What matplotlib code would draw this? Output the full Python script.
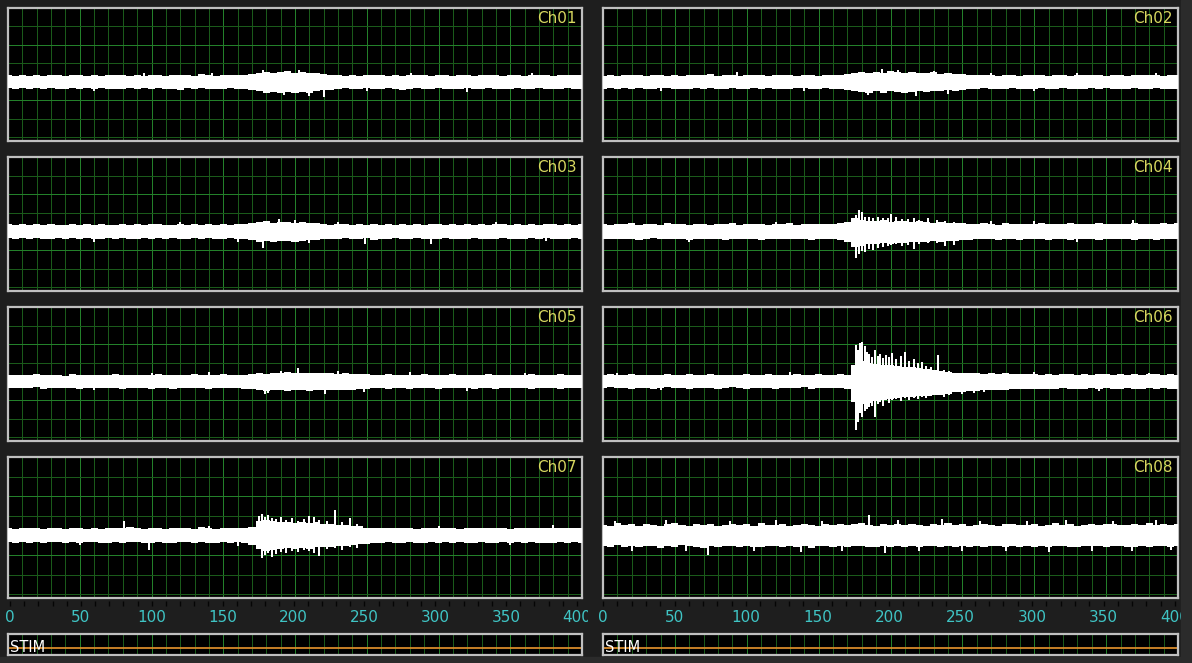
import numpy as np
import matplotlib
matplotlib.use("Agg")  # no display
import matplotlib.pyplot as plt
from matplotlib.patches import Rectangle

W, H = 1192, 663

# time axis (ms), envelope sampled every 5 ms
t_ms = np.arange(0, 401, 5)
tick_vals = [0, 50, 100, 150, 200, 250, 300, 350, 400]
names = ["Ch01", "Ch02", "Ch03", "Ch04", "Ch05", "Ch06", "Ch07", "Ch08"]

# dense band of each trace (grid divisions above / below baseline)
ch01_hi = [0.36,0.32,0.38,0.34,0.40,0.33,0.37,0.35,0.31,0.39,0.36,0.34,0.38,0.32,0.36,0.40,0.35,0.33,0.37,0.34,
           0.38,0.36,0.32,0.39,0.35,0.37,0.33,0.41,0.36,0.34,0.38,0.35,0.37,0.40,
           0.44,0.50,0.55,0.48,0.52,0.58,0.50,0.55,0.48,0.46,0.42,0.40,
           0.36,0.34,0.38,0.33,0.37,0.35,0.39,0.34,0.36,0.32,0.38,0.35,0.37,0.33,0.40,0.36,0.34,0.38,0.35,0.33,
           0.37,0.36,0.39,0.34,0.36,0.38,0.33,0.37,0.35,0.39,0.34,0.36,0.38,0.35,0.37]
ch01_lo = [-0.34,-0.38,-0.32,-0.40,-0.35,-0.37,-0.33,-0.39,-0.36,-0.34,-0.41,-0.35,-0.37,-0.33,-0.38,-0.36,-0.40,
           -0.34,-0.37,-0.35,-0.39,-0.33,-0.38,-0.36,-0.42,-0.35,-0.37,-0.34,-0.39,-0.36,-0.38,-0.33,-0.40,-0.37,
           -0.45,-0.52,-0.58,-0.55,-0.62,-0.56,-0.60,-0.54,-0.58,-0.50,-0.46,-0.42,
           -0.38,-0.35,-0.39,-0.36,-0.34,-0.40,-0.37,-0.35,-0.38,-0.42,-0.36,-0.34,-0.39,-0.37,-0.35,-0.40,-0.36,
           -0.38,-0.34,-0.41,-0.37,-0.35,-0.39,-0.36,-0.38,-0.34,-0.40,-0.37,-0.35,-0.39,-0.36,-0.38,-0.35,-0.37,-0.36]
ch02_hi = [0.34,0.38,0.33,0.36,0.40,0.35,0.32,0.37,0.39,0.34,0.36,0.33,0.38,0.35,0.37,0.41,0.34,0.36,0.38,0.33,
           0.35,0.39,0.36,0.34,0.37,0.35,0.40,0.33,0.36,0.38,0.34,0.37,0.35,0.39,0.42,
           0.46,0.52,0.48,0.55,0.50,0.58,0.52,0.49,0.55,0.50,0.47,0.52,0.45,0.48,0.44,0.42,
           0.38,0.35,0.40,0.36,0.33,0.37,0.39,0.34,0.36,0.38,0.35,0.33,0.37,0.40,0.34,0.36,0.38,0.35,0.37,0.33,
           0.39,0.36,0.34,0.38,0.35,0.37,0.40,0.34,0.36,0.38]
ch02_lo = [-0.36,-0.33,-0.38,-0.35,-0.40,-0.34,-0.37,-0.39,-0.35,-0.33,-0.38,-0.36,-0.41,-0.34,-0.37,-0.35,-0.39,
           -0.36,-0.33,-0.38,-0.40,-0.35,-0.37,-0.34,-0.39,-0.36,-0.38,-0.35,-0.33,-0.40,-0.37,-0.35,-0.38,-0.36,-0.42,
           -0.48,-0.55,-0.60,-0.52,-0.58,-0.50,-0.55,-0.62,-0.54,-0.50,-0.56,-0.48,-0.52,-0.46,-0.50,-0.44,
           -0.40,-0.37,-0.35,-0.39,-0.36,-0.41,-0.34,-0.38,-0.36,-0.40,-0.35,-0.37,-0.39,-0.34,-0.38,-0.36,-0.40,
           -0.35,-0.37,-0.33,-0.39,-0.36,-0.38,-0.35,-0.41,-0.37,-0.34,-0.39,-0.36,-0.38]
ch03_hi = [0.38,0.34,0.40,0.36,0.42,0.35,0.39,0.37,0.33,0.41,0.36,0.38,0.35,0.40,0.37,0.34,0.39,0.36,0.42,0.35,
           0.38,0.40,0.36,0.34,0.39,0.37,0.41,0.35,0.38,0.36,0.40,0.37,0.39,0.42,
           0.46,0.50,0.55,0.48,0.52,0.50,0.47,0.52,0.45,0.44,
           0.40,0.36,0.38,0.42,0.35,0.39,0.37,0.41,0.36,0.38,0.34,0.40,0.37,0.39,0.35,0.38,0.41,0.36,0.38,0.35,
           0.40,0.37,0.39,0.36,0.42,0.38,0.35,0.39,0.37,0.40,0.36,0.38,0.41,0.37,0.39,0.36,0.38]
ch03_lo = [-0.37,-0.40,-0.35,-0.39,-0.36,-0.42,-0.38,-0.34,-0.40,-0.37,-0.39,-0.35,-0.41,-0.38,-0.36,-0.40,-0.37,
           -0.43,-0.38,-0.35,-0.39,-0.37,-0.41,-0.36,-0.38,-0.40,-0.35,-0.39,-0.37,-0.42,-0.38,-0.36,-0.40,-0.43,
           -0.48,-0.55,-0.52,-0.58,-0.50,-0.54,-0.56,-0.50,-0.48,-0.45,
           -0.41,-0.38,-0.40,-0.36,-0.42,-0.39,-0.37,-0.44,-0.40,-0.38,-0.36,-0.41,-0.39,-0.37,-0.40,-0.43,-0.38,
           -0.36,-0.40,-0.38,-0.42,-0.37,-0.39,-0.41,-0.38,-0.36,-0.40,-0.38,-0.42,-0.37,-0.39,-0.36,-0.40,-0.38,
           -0.41,-0.37,-0.39]
ch04_hi = [0.40,0.36,0.42,0.38,0.44,0.37,0.41,0.39,0.35,0.43,0.38,0.40,0.37,0.42,0.39,0.36,0.41,0.38,0.44,0.37,
           0.40,0.42,0.38,0.36,0.41,0.39,0.43,0.37,0.40,0.38,0.42,0.39,0.41,0.44,
           0.50,0.70,0.62,0.58,0.55,0.60,0.52,0.55,0.58,0.50,0.55,0.52,0.48,0.50,0.47,0.48,0.45,
           0.42,0.39,0.44,0.40,0.37,0.43,0.41,0.38,0.42,0.40,0.45,0.39,0.41,0.38,0.43,0.40,0.42,0.39,0.44,0.41,
           0.38,0.42,0.40,0.45,0.39,0.42,0.40,0.44,0.41,0.43]
ch04_lo = [-0.40,-0.43,-0.38,-0.42,-0.39,-0.44,-0.41,-0.37,-0.42,-0.40,-0.43,-0.38,-0.44,-0.41,-0.39,-0.42,-0.40,
           -0.45,-0.41,-0.38,-0.42,-0.40,-0.44,-0.39,-0.41,-0.43,-0.38,-0.42,-0.40,-0.44,-0.41,-0.39,-0.42,-0.45,
           -0.55,-0.85,-0.78,-0.70,-0.65,-0.62,-0.66,-0.60,-0.64,-0.58,-0.55,-0.58,-0.52,-0.55,-0.50,-0.52,-0.48,
           -0.44,-0.41,-0.43,-0.40,-0.45,-0.42,-0.39,-0.44,-0.41,-0.43,-0.40,-0.46,-0.42,-0.39,-0.44,-0.41,-0.43,
           -0.40,-0.45,-0.42,-0.39,-0.43,-0.41,-0.44,-0.40,-0.42,-0.45,-0.41,-0.43,-0.40]
ch05_hi = [0.35,0.32,0.37,0.34,0.39,0.33,0.36,0.34,0.31,0.38,0.35,0.33,0.37,0.34,0.36,0.39,0.33,0.35,0.37,0.32,
           0.36,0.38,0.34,0.33,0.37,0.35,0.39,0.32,0.36,0.34,0.38,0.35,0.33,0.37,0.40,
           0.44,0.42,0.47,0.45,0.50,0.48,0.44,0.47,0.45,0.43,0.46,0.42,0.44,0.41,0.40,0.38,
           0.36,0.33,0.38,0.35,0.32,0.37,0.34,0.39,0.35,0.33,0.36,0.38,0.34,0.37,0.33,0.35,0.39,0.34,0.36,0.32,
           0.37,0.35,0.38,0.34,0.36,0.33,0.38,0.35,0.37,0.34]
ch05_lo = [-0.34,-0.37,-0.33,-0.36,-0.32,-0.38,-0.35,-0.33,-0.37,-0.34,-0.39,-0.35,-0.33,-0.37,-0.36,-0.34,-0.38,
           -0.35,-0.33,-0.37,-0.40,-0.34,-0.36,-0.38,-0.33,-0.35,-0.37,-0.34,-0.39,-0.36,-0.33,-0.37,-0.35,-0.38,-0.41,
           -0.46,-0.50,-0.48,-0.45,-0.52,-0.47,-0.44,-0.50,-0.48,-0.46,-0.44,-0.47,-0.45,-0.48,-0.43,-0.40,
           -0.37,-0.34,-0.38,-0.36,-0.33,-0.39,-0.35,-0.37,-0.34,-0.38,-0.36,-0.33,-0.37,-0.35,-0.39,-0.34,-0.36,
           -0.38,-0.35,-0.37,-0.33,-0.36,-0.39,-0.35,-0.37,-0.34,-0.38,-0.36,-0.34,-0.37]
ch06_hi = [0.34,0.38,0.32,0.36,0.40,0.33,0.37,0.35,0.32,0.39,0.36,0.34,0.38,0.33,0.36,0.41,0.35,0.33,0.37,0.34,
           0.38,0.36,0.32,0.39,0.35,0.37,0.33,0.40,0.36,0.34,0.38,0.35,0.37,0.39,0.36,
           0.90,1.10,1.00,0.95,0.90,0.88,0.85,0.80,0.75,0.70,0.65,0.60,0.55,0.50,
           0.48,0.45,0.47,0.44,0.42,0.45,0.41,0.43,0.40,0.38,0.42,0.39,0.37,0.40,0.36,0.38,0.41,0.37,0.39,0.36,
           0.40,0.38,0.35,0.39,0.37,0.41,0.36,0.38,0.40,0.37,0.39,0.36]
ch06_lo = [-0.35,-0.32,-0.37,-0.34,-0.39,-0.33,-0.36,-0.38,-0.34,-0.32,-0.37,-0.35,-0.40,-0.33,-0.36,-0.34,-0.38,
           -0.35,-0.32,-0.37,-0.39,-0.34,-0.36,-0.33,-0.38,-0.35,-0.37,-0.34,-0.32,-0.39,-0.36,-0.34,-0.37,-0.35,-0.38,
           -1.10,-1.20,-1.15,-1.05,-1.00,-0.95,-0.90,-0.85,-0.85,-0.80,-0.78,-0.75,-0.72,-0.65,
           -0.58,-0.55,-0.52,-0.50,-0.48,-0.46,-0.44,-0.45,-0.42,-0.40,-0.43,-0.39,-0.41,-0.38,-0.40,-0.37,-0.39,
           -0.42,-0.38,-0.36,-0.40,-0.37,-0.39,-0.41,-0.36,-0.38,-0.40,-0.37,-0.39,-0.36,-0.38,-0.40]
ch07_hi = [0.36,0.33,0.38,0.35,0.40,0.34,0.37,0.35,0.32,0.39,0.36,0.34,0.38,0.33,0.36,0.40,0.35,0.42,0.37,0.34,
           0.38,0.36,0.33,0.39,0.35,0.37,0.34,0.41,0.36,0.34,0.38,0.35,0.37,0.40,
           0.45,0.75,0.80,0.72,0.70,0.68,0.65,0.70,0.62,0.66,0.60,0.58,0.55,0.55,0.50,0.46,
           0.40,0.37,0.39,0.35,0.38,0.36,0.40,0.34,0.37,0.39,0.35,0.38,0.36,0.33,0.39,0.37,0.35,0.40,0.36,0.38,
           0.34,0.37,0.39,0.35,0.38,0.36,0.40,0.37,0.35,0.38,0.36]
ch07_lo = [-0.35,-0.38,-0.34,-0.37,-0.33,-0.39,-0.36,-0.34,-0.38,-0.35,-0.40,-0.36,-0.34,-0.38,-0.37,-0.35,-0.39,
           -0.36,-0.34,-0.38,-0.41,-0.35,-0.37,-0.39,-0.34,-0.36,-0.38,-0.35,-0.40,-0.37,-0.34,-0.38,-0.36,-0.39,
           -0.48,-0.70,-0.80,-0.75,-0.70,-0.66,-0.72,-0.65,-0.68,-0.62,-0.60,-0.58,-0.55,-0.52,-0.50,-0.46,
           -0.42,-0.38,-0.40,-0.36,-0.39,-0.37,-0.35,-0.40,-0.38,-0.36,-0.39,-0.34,-0.38,-0.36,-0.40,-0.37,-0.35,
           -0.39,-0.37,-0.34,-0.38,-0.36,-0.40,-0.35,-0.38,-0.37,-0.39,-0.35,-0.38,-0.36,-0.37]
ch08_hi = [0.55,0.50,0.62,0.52,0.58,0.48,0.60,0.54,0.50,0.56,0.62,0.52,0.48,0.57,0.53,0.60,0.50,0.55,0.58,0.51,
           0.56,0.49,0.61,0.54,0.52,0.58,0.50,0.55,0.60,0.53,0.48,0.57,0.54,0.59,0.52,0.56,0.62,0.55,0.50,0.58,
           0.53,0.60,0.51,0.56,0.54,0.49,0.58,0.55,0.61,0.52,0.57,0.50,0.55,0.59,0.53,0.48,0.56,0.60,0.52,0.55,
           0.58,0.50,0.54,0.61,0.53,0.57,0.50,0.55,0.59,0.52,0.56,0.60,0.54,0.51,0.58,0.55,0.62,0.53,0.57,0.54,0.56]
ch08_lo = [-0.52,-0.58,-0.50,-0.62,-0.55,-0.60,-0.53,-0.57,-0.64,-0.54,-0.58,-0.51,-0.56,-0.60,-0.65,-0.55,-0.59,
           -0.52,-0.57,-0.61,-0.54,-0.58,-0.62,-0.53,-0.56,-0.60,-0.52,-0.58,-0.55,-0.63,-0.57,-0.53,-0.59,-0.55,
           -0.61,-0.56,-0.52,-0.58,-0.60,-0.54,-0.62,-0.55,-0.58,-0.52,-0.60,-0.57,-0.54,-0.59,-0.55,-0.61,-0.53,
           -0.58,-0.56,-0.62,-0.54,-0.57,-0.60,-0.52,-0.58,-0.55,-0.59,-0.54,-0.61,-0.56,-0.52,-0.58,-0.60,-0.55,
           -0.57,-0.53,-0.60,-0.56,-0.54,-0.59,-0.62,-0.55,-0.58,-0.53,-0.57,-0.60,-0.56]

# isolated spikes sticking out of the band: (time ms, low, high) in divisions
ch01_spk = [(60, -0.5, 0), (95, 0, 0.48), (142, 0, 0.5), (178, -0.3, 0.65), (192, -0.7, 0.3), (203, 0, 0.65),
            (210, -0.75, 0), (220, -0.8, 0), (250, -0.5, 0), (281, 0, 0.5), (320, -0.55, 0), (365, 0, 0.48)]
ch02_spk = [(40, -0.5, 0), (93, 0, 0.55), (140, -0.52, 0), (184, -0.72, 0), (194, 0, 0.68), (205, 0, 0.62),
            (218, -0.78, 0), (230, 0, 0.6), (240, -0.65, 0), (270, 0, 0.5), (300, -0.5, 0), (330, 0, 0.48),
            (385, 0, 0.5)]
ch03_spk = [(60, -0.55, 0), (120, 0, 0.5), (160, -0.55, 0), (178, -0.9, 0), (189, 0, 0.65), (200, 0, 0.62),
            (201, -0.58, 0), (210, -0.62, 0), (230, 0, 0.52), (249, -0.7, 0), (295, -0.65, 0), (340, 0, 0.5),
            (375, -0.5, 0)]
ch04_spk = [(60, -0.55, 0), (120, 0, 0.52), (176, -1.4, 0.9), (178, -1.2, 1.13), (180, -1.05, 1.05),
            (182, -1.1, 0.8), (185, -0.95, 0.75), (188, -1.0, 0.7), (191, -0.9, 0.78), (195, -0.85, 0.72),
            (198, -0.8, 0.7), (200, -0.75, 0.92), (204, -0.7, 0.75), (208, -0.8, 0.68), (212, -0.72, 0.65),
            (216, -0.95, 0.7), (220, -0.7, 0.6), (226, -0.62, 0.72), (232, -0.6, 0.6), (238, -0.8, 0.55),
            (244, -0.75, 0.5), (270, 0, 0.55), (300, 0, 0.55), (330, -0.55, 0), (369, 0, 0.6)]
ch05_spk = [(60, -0.48, 0), (100, 0, 0.48), (140, 0, 0.5), (179, -0.65, 0), (181, -0.6, 0), (190, 0, 0.55),
            (202, 0, 0.7), (221, -0.65, 0), (230, 0, 0.55), (248, -0.58, 0), (280, 0, 0.5), (320, -0.5, 0),
            (360, 0, 0.48)]
ch06_spk = [(10, 0, 0.45), (40, -0.48, 0), (130, 0, 0.5), (176, -2.6, 1.95), (177.5, -2.2, 1.7),
            (179, -1.7, 2.05), (180.5, -1.9, 2.1), (182, -1.6, 1.9), (183.5, -1.5, 1.6), (185, -1.4, 1.45),
            (187, -1.3, 1.3), (189, -1.9, 1.7), (191, -1.2, 1.35), (193, -1.1, 1.5), (195, -1.3, 1.25),
            (197, -1.0, 1.4), (199, -1.15, 1.3), (201, -1.0, 1.55), (204, -0.95, 1.2), (207, -1.05, 1.35),
            (210, -0.9, 1.6), (213, -1.0, 1.1), (216, -0.9, 1.2), (219, -0.95, 1.0), (222, -0.85, 1.05),
            (225, -0.9, 0.85), (228, -0.8, 0.8), (233, -0.7, 1.4), (237, -0.85, 0.6), (241, -0.75, 0.55),
            (250, -0.65, 0), (258, -0.6, 0), (265, -0.55, 0), (300, 0, 0.5), (345, -0.5, 0), (380, 0, 0.48)]
ch07_spk = [(50, -0.5, 0), (81, 0, 0.75), (98, -0.75, 0), (140, 0, 0.5), (160, -0.55, 0), (175, -0.6, 1.0),
            (177, -1.15, 1.1), (179, -1.0, 0.95), (181, -0.9, 1.05), (184, -1.1, 0.9), (187, -0.95, 0.85),
            (190, -0.85, 0.95), (194, -0.9, 0.8), (198, -0.8, 0.9), (202, -0.85, 0.75), (206, -0.75, 0.85),
            (210, -0.8, 1.0), (213, -0.9, 0.95), (217, -1.05, 0.8), (222, -0.7, 0.75), (228, -0.65, 1.3),
            (233, -0.75, 0.7), (238, -0.6, 0.9), (243, -0.65, 0.6), (300, 0, 0.5), (350, -0.5, 0),
            (380, 0, 0.55)]
ch08_spk = [(8, 0, 0.72), (20, -0.78, 0), (44, 0, 0.8), (58, -0.82, 0), (73, -1.0, 0), (88, 0, 0.75),
            (105, -0.8, 0), (120, 0, 0.78), (138, -0.85, 0), (152, 0, 0.72), (166, -0.8, 0), (185, 0, 1.05),
            (196, -0.88, 0), (205, 0, 0.78), (220, -0.82, 0), (236, 0, 0.82), (250, -0.78, 0), (262, 0, 0.75),
            (280, -0.8, 0), (295, 0, 0.72), (310, -0.85, 0), (322, 0, 0.8), (340, -0.78, 0), (355, 0, 0.75),
            (368, -0.82, 0), (385, 0, 0.8), (395, -0.75, 0)]

traces = [
    (ch01_hi, ch01_lo, ch01_spk), (ch02_hi, ch02_lo, ch02_spk),
    (ch03_hi, ch03_lo, ch03_spk), (ch04_hi, ch04_lo, ch04_spk),
    (ch05_hi, ch05_lo, ch05_spk), (ch06_hi, ch06_lo, ch06_spk),
    (ch07_hi, ch07_lo, ch07_spk), (ch08_hi, ch08_lo, ch08_spk),
]

# layout in pixels
COLS = [(8, 582), (603, 1178)]
LABEL_X = [(10, 577), (603, 1175)]   # where 0 and 400 of the time scale sit
ROWS = [(8, 141), (157, 291), (307, 441), (457, 598)]
STIM_Y = (634, 655)
SCALE_Y = (598, 632)
CLIP_X = [(0, 588), (596, 1181)]

BG = "#1e1e1e"
MINOR = "#1a5a1a"
MAJOR = "#23802a"
BORDER = "#c0c0c0"
GRID_LW = 0.72  # one pixel at 100 dpi
YMIN, YMAX = -3.2, 4.0

plt.rcParams["font.family"] = ["DejaVu Sans"]


def px_axes(fig, x0, y0, x1, y1):
    return fig.add_axes([x0 / W, 1 - y1 / H, (x1 - x0) / W, (y1 - y0) / H])


def frame(ax):
    ax.set_facecolor("black")
    ax.set_xlim(0, 400)
    ax.set_xticks([]); ax.set_yticks([])
    for s in ax.spines.values():
        s.set_color(BORDER); s.set_linewidth(1.6)
    minor = [v for v in range(10, 400, 10) if v % 50]
    major = [v for v in range(50, 400, 50)]
    xt = ax.get_xaxis_transform()
    ax.vlines(minor, 0, 1, transform=xt, color=MINOR, lw=GRID_LW, zorder=1, antialiased=False)
    ax.vlines(major, 0, 1, transform=xt, color=MAJOR, lw=GRID_LW, zorder=1, antialiased=False)


fig = plt.figure(figsize=(W / 100, H / 100), dpi=100, facecolor=BG)
fig.patches.append(Rectangle((1181 / W, 0), 11 / W, 1, transform=fig.transFigure,
                             color="#2b2b2b", zorder=-1))
fig.patches.append(Rectangle((0, 0), 1, 6 / H, transform=fig.transFigure, color="#2b2b2b", zorder=-1))

for i, (name, (hi, lo, spk)) in enumerate(zip(names, traces)):
    x0, x1 = COLS[i % 2]
    y0, y1 = ROWS[i // 2]
    ax = px_axes(fig, x0, y0, x1, y1)
    frame(ax)
    ax.set_ylim(YMIN, YMAX)
    ax.hlines([3, 1, 0, -2, -3], 0, 400, color=MINOR, lw=GRID_LW, zorder=1, antialiased=False)
    ax.hlines([2, -1], 0, 400, color=MAJOR, lw=GRID_LW, zorder=1, antialiased=False)
    ax.fill_between(t_ms, lo, hi, step="mid", color="white", lw=0, zorder=3, antialiased=False)
    sp = np.array(spk, dtype=float)
    ax.vlines(sp[:, 0], sp[:, 1], sp[:, 2], color="white", lw=1.1, zorder=3, antialiased=False)
    ax.text(1 - 5 / (x1 - x0), 1 - 3 / (y1 - y0), name, transform=ax.transAxes,
            ha="right", va="top", fontsize=11, color="#d8d860", zorder=5)

for c, (x0, x1) in enumerate(COLS):
    # STIM strip
    sax = px_axes(fig, x0, STIM_Y[0], x1, STIM_Y[1])
    frame(sax)
    sax.set_ylim(0, 1)
    sax.axhline(0.32, color="#d88a2a", lw=1.3, zorder=2)
    sax.text(2 / (x1 - x0), 0.12, "STIM", transform=sax.transAxes, ha="left", va="baseline",
             fontsize=10.5, color="white", zorder=5)

    # time scale with tick labels, clipped at the column edge
    cx0, cx1 = CLIP_X[c]
    lx0, lx1 = LABEL_X[c]
    k = (lx1 - lx0) / 400.0
    tax = px_axes(fig, cx0, SCALE_Y[0], cx1, SCALE_Y[1])
    tax.set_xlim((cx0 - lx0) / k, (cx1 - lx0) / k)
    tax.set_ylim(SCALE_Y[1], SCALE_Y[0])
    tax.axis("off")
    tax.vlines(np.arange(0, 401, 10), 601, 606, color="#050505", lw=1)
    for v in tick_vals:
        tax.text(v, 618, str(v), ha="center", va="center", fontsize=11,
                 color="#3fc4c4", clip_on=True)

fig.savefig("out.png", dpi=100, facecolor=BG)
